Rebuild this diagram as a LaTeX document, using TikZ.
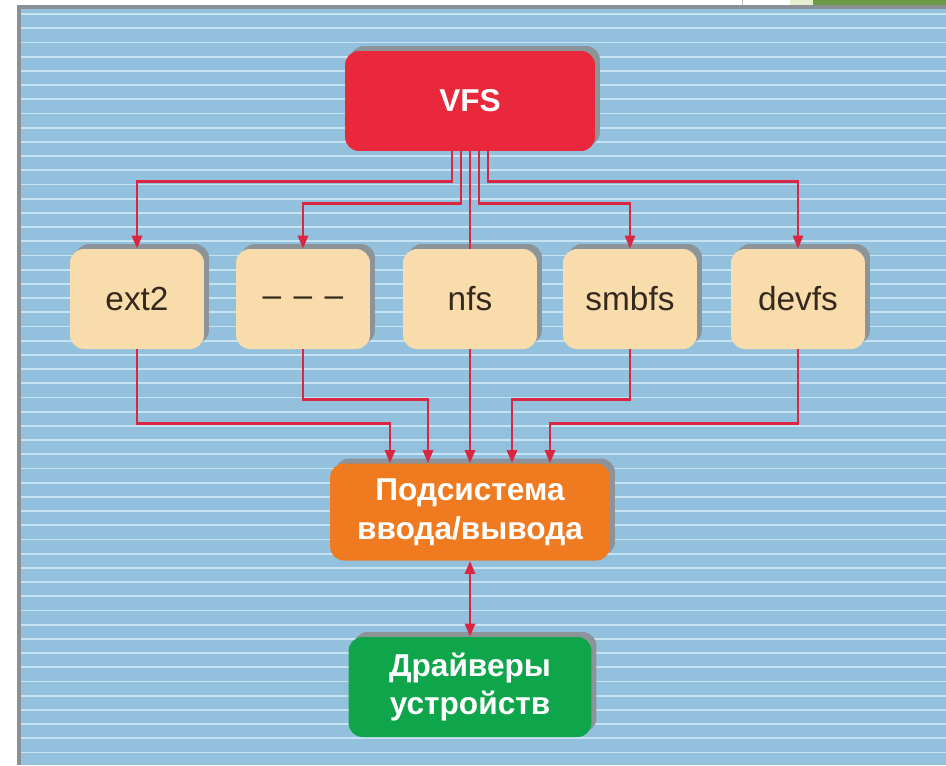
\documentclass[tikz,border=0pt]{standalone}
\usepackage{fontspec}
\setmainfont{Liberation Sans}
\usetikzlibrary{arrows.meta,calc,shadows}

\definecolor{panelblue}{HTML}{93C1DD}
\definecolor{stripe}{HTML}{C6E3F4}
\definecolor{edgegray}{HTML}{8A9096}
\definecolor{vfsred}{HTML}{EA283B}
\definecolor{fsbeige}{HTML}{F9DCAB}
\definecolor{iorange}{HTML}{EF7A1F}
\definecolor{drvgreen}{HTML}{0FA64B}
\definecolor{wirered}{HTML}{DA2640}
\definecolor{textbrown}{HTML}{35281C}
\definecolor{shadowgray}{HTML}{8C9499}
\definecolor{leafpale}{HTML}{E6EFD0}
\definecolor{leafgreen}{HTML}{6E9A48}

\tikzset{
  box/.style={rounded corners=0.28cm, inner sep=0pt, align=center,
    drop shadow={shadow xshift=0.1cm, shadow yshift=0.1cm,
      fill=shadowgray, opacity=1}},
  fsbox/.style={box, fill=fsbeige, text=textbrown,
    minimum width=2.68cm, minimum height=2cm,
    font=\fontsize{19}{22}\selectfont},
  mainbox/.style={box, text=white,
    font=\bfseries\fontsize{18}{22}\selectfont},
  wire/.style={draw=wirered, line width=0.055cm},
  arrowend/.style={-{Triangle[length=0.26cm,width=0.2cm]}},
}

\begin{document}
\begin{tikzpicture}[x=0.02cm, y=-0.02cm]
   \useasboundingbox (0,0) rectangle (946,765);
   % background panel
   \fill[white] (0,0) rectangle (946,765);
   \fill[panelblue] (17,5) rectangle (946,765);
   \foreach \ypos in {14,28.2,...,760} {
      \fill[stripe] (21,\ypos-0.9) rectangle (946,\ypos+0.9);
   }
   \fill[edgegray] (17,5) rectangle (21,765);
   \fill[edgegray] (17,5) rectangle (946,9);
   \draw[edgegray!60, line width=0.02cm] (742,0) -- (742,5);
   \fill[leafpale] (790,0) rectangle (813,5);
   \fill[leafgreen] (813,0) rectangle (946,5);

   \node[mainbox, fill=vfsred, minimum width=5cm, minimum height=2cm]
      (vfs) at (470,101) {VFS};
   \def \FileSystems {
      ext2/137/ext2,
      other/303/{\strut–\hspace{0.25cm}–\hspace{0.25cm}–},
      nfs/470/nfs,
      smbfs/630/smbfs,
      devfs/798/devfs}
   \foreach \n / \x / \t in \FileSystems {
      \node[fsbox] (\n) at (\x,299) {\t};
   }
   \node[mainbox, fill=iorange, minimum width=5.6cm, minimum height=1.94cm]
      (io) at (470,512) {Подсистема\\ввода/вывода};
   \node[mainbox, fill=drvgreen, minimum width=4.86cm, minimum height=2cm]
      (drv) at (470,687) {Драйверы\\устройств};

   % VFS to file systems
   \def \Fanout {
      ext2/-18/30,
      other/-9/52,
      smbfs/9/52,
      devfs/18/30}
   \foreach \n / \dx / \dy in \Fanout {
      \draw[wire, arrowend] ($(vfs.south)+(\dx,0)$) -- ++(0,\dy) -| (\n.north);
   }
   \draw[wire] (vfs.south) -- (nfs.north);
   % file systems to I/O
   \def \Fanin {
      ext2/-80/74,
      other/-42/50,
      smbfs/42/50,
      devfs/80/74}
   \foreach \n / \dx / \dy in \Fanin {
      \draw[wire, arrowend] (\n.south) -- ++(0,\dy) -| ($(io.north)+(\dx,0)$);
   }
   \draw[wire, arrowend] (nfs.south) -- (io.north);
   \draw[wire, {Triangle[length=0.26cm,width=0.2cm]}-{Triangle[length=0.26cm,width=0.2cm]}]
      (io.south) -- (drv.north);
\end{tikzpicture}
\end{document}
